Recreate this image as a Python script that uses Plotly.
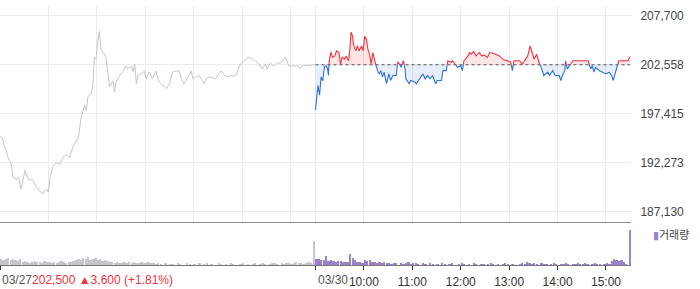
import plotly.graph_objects as go

# ---------------- data ----------------
BASE = 202558  # previous close (dotted reference line)
Y_TICKS = [187130, 192273, 197415, 202558, 207700]
DAY_LABELS = ["03/27", "03/30"]
HOUR_LABELS = ["10:00", "11:00", "12:00", "13:00", "14:00", "15:00"]
SUMMARY = "202,500 ▲3,600 (+1.81%)"

d1_time = ["09:00","09:03","09:06","09:08","09:10","09:14","09:16","09:21","09:23","09:26",
           "09:31","09:35","09:41","09:45","09:53","09:58","10:00","10:02","10:06","10:10",
           "10:14","10:18","10:22","10:26","10:31","10:37","10:41","10:45","10:47","10:49",
           "10:53","10:55","10:57","10:59","11:01","11:03","11:05","11:08","11:11","11:14",
           "11:16","11:20","11:22","11:24","11:28","11:32","11:36","11:38","11:43","11:45",
           "11:47","11:49","11:51","11:55","11:59","12:01","12:05","12:09","12:13","12:17",
           "12:22","12:26","12:30","12:34","12:38","12:42","12:46","12:48","12:52","12:57",
           "12:59","13:03","13:07","13:13","13:15","13:21","13:27","13:34","13:40","13:46",
           "13:52","13:56","13:58","14:02","14:06","14:09","14:13","14:17","14:21","14:25",
           "14:29","14:31","14:35","14:39","14:44","14:48","14:52","14:54","14:58","15:02",
           "15:10","15:12","15:14","15:30"]
d1_price = [195090,194880,193850,193540,192820,192090,190750,190540,190750,189510,
            191470,190540,190440,189710,188990,189510,189200,190750,191990,192300,
            192090,192820,193130,192820,194060,194880,197260,198290,197780,199220,
            199530,200360,203360,203150,204910,206050,204190,203880,203460,201400,
            200260,200880,199740,200770,201400,201810,202430,202120,202430,201810,
            202640,200570,201400,201600,201910,201080,201810,201080,201910,200770,
            200360,200050,200570,201810,201910,201910,200880,200570,201080,201910,
            201080,201290,201400,200570,201080,201290,201080,201910,201290,201400,
            201400,202120,202640,202950,203150,203360,203150,202950,202640,202120,
            202640,202120,202740,202430,202740,202740,203150,203360,202430,202430,
            202430,202120,202430,202558]

d2_time = ["09:00","09:03","09:05","09:07","09:09","09:11","09:13","09:15","09:16","09:17",
           "09:19","09:21","09:24","09:26","09:29","09:31","09:33","09:36","09:38","09:41",
           "09:43","09:44","09:46","09:47","09:50","09:52","09:54","09:57","09:59","10:01",
           "10:03","10:05","10:07","10:09","10:11","10:13","10:15","10:17","10:19","10:21",
           "10:23","10:25","10:28","10:31","10:33","10:36","10:40","10:42","10:44","10:46",
           "10:49","10:51","10:52","10:56","10:58","11:03","11:05","11:09","11:13","11:16",
           "11:19","11:22","11:25","11:29","11:31","11:36","11:38","11:42","11:44","11:48",
           "11:50","11:53","11:56","12:00","12:02","12:04","12:09","12:11","12:13","12:16",
           "12:19","12:23","12:26","12:29","12:33","12:36","12:40","12:44","12:48","12:53",
           "12:58","13:02","13:04","13:06","13:13","13:16","13:19","13:23","13:26","13:28",
           "13:31","13:34","13:37","13:39","13:43","13:48","13:50","13:54","13:57","14:02",
           "14:04","14:06","14:09","14:10","14:12","14:15","14:19","14:23","14:38","14:41",
           "14:43","14:45","14:47","14:52","14:56","15:00","15:04","15:07","15:09","15:11",
           "15:14","15:16","15:23","15:27","15:30"]
d2_price = [197810,200390,199360,201290,200880,202320,202460,202120,201430,202980,
            203880,203360,203490,204010,203840,202640,203360,203150,203490,202980,
            204530,205980,205560,204700,204010,204530,204010,204530,204010,205560,
            205220,204190,203670,202640,203840,203150,202460,201940,201600,201940,
            201290,201780,200570,201600,200910,201430,201430,202870,202640,202290,
            202980,202120,201080,200570,200910,200740,200570,201080,201600,201080,
            201430,201080,201430,200570,200910,200910,201940,201940,202980,202810,
            202980,202640,202290,202460,201940,202980,203490,203840,203670,203950,
            203490,203840,203490,203570,203330,203840,203770,203670,203490,203080,
            202980,202810,201940,202980,202980,202640,202980,203490,204530,204010,
            203150,203670,202640,202460,201430,201780,201430,201940,201430,201430,
            200910,201430,201940,202980,202120,202460,202980,202980,202980,202120,
            202460,201780,202290,201940,201780,201600,201780,201430,200910,201600,
            202460,202980,202980,202980,203430]

# volume, 3-minute bins (09:00-15:27) + closing auction at 15:30 (thousand shares)
d1_vol = [6,5,6,7,5,6,5,4,6,
          3,4,3,2,3,4,3,3,2,4,3,3,2,3,2,3,4,3,2,3,3,
          4,5,6,5,7,6,8,5,6,7,5,6,4,5,4,3,
          3,2,3,2,2,3,2,3,2,3,2,2,3,2,2,3,2,2,1,2,
          1,0,2,0,1,1,0,2,1,0,0,2,1,0,1,0,2,0,1,2,
          0,1,0,0,2,1,0,1,0,2,1,0,0,1,2,0,1,0,1,2,
          0,1,2,1,0,1,2,2,1,0,2,1,2,2,1,2,3,2,2,1,
          2,3,2,1]
d1_close_vol = 25
d2_vol = [6,6,5,5,9,4,5,4,3,4,4,3,3,3,12,7,5,3,3,2,5,4,5,3,3,2,3,2,3,
          2,2,1,2,2,0,2,1,2,3,1,2,2,1,0,2,
          1,0,2,1,0,1,0,2,1,0,1,2,0,0,1,2,1,0,1,0,2,1,0,1,1,
          0,1,2,1,0,1,0,1,2,1,0,1,0,0,1,2,1,3,2,1,
          2,1,0,2,1,1,0,1,2,1,0,1,1,2,1,0,1,1,2,1,1,2,1,0,1,2,1,1,0,1,2,1,
          4,6,5,4,5,3,1,0]
d2_close_vol = 36

# ---------------- helpers ----------------
DAY_OFFSET = [0, 391]  # session-minute offset of each trading day on the axis
BIN = 3


def tmin(t):
    h, m = t.split(":")
    return (int(h) - 9) * 60 + int(m)


def xs(times, day):
    return [tmin(t) + DAY_OFFSET[day] for t in times]


x1 = xs(d1_time, 0)
x2 = xs(d2_time, 1)

# insert crossing points of day-2 line with base
px, py = [], []
for i in range(len(x2)):
    px.append(x2[i]); py.append(d2_price[i])
    if i + 1 < len(x2):
        a, b = d2_price[i] - BASE, d2_price[i + 1] - BASE
        if a * b < 0:
            xc = x2[i] + (x2[i + 1] - x2[i]) * a / (a - b)
            px.append(xc); py.append(BASE)
up = [max(v, BASE) for v in py]
dn = [min(v, BASE) for v in py]
red = [v if v >= BASE else None for v in py]
blue = [v if v <= BASE else None for v in py]
basel = [BASE] * len(px)

GRAY = "#c5c6cb"
RED = "#f2323c"
BLUE = "#2f72d6"
PURPLE = "#9a82cc"

fig = go.Figure()
# price pane
fig.add_trace(go.Scatter(x=x1, y=d1_price, mode="lines", line=dict(color=GRAY, width=1),
                         xaxis="x", yaxis="y", hoverinfo="skip"))
fig.add_trace(go.Scatter(x=px, y=basel, mode="lines", line=dict(width=0), xaxis="x", yaxis="y",
                         hoverinfo="skip"))
fig.add_trace(go.Scatter(x=px, y=up, mode="lines", line=dict(width=0), fill="tonexty",
                         fillcolor="rgba(245,80,90,0.15)", xaxis="x", yaxis="y", hoverinfo="skip"))
fig.add_trace(go.Scatter(x=px, y=basel, mode="lines", line=dict(width=0), xaxis="x", yaxis="y",
                         hoverinfo="skip"))
fig.add_trace(go.Scatter(x=px, y=dn, mode="lines", line=dict(width=0), fill="tonexty",
                         fillcolor="rgba(60,120,210,0.13)", xaxis="x", yaxis="y", hoverinfo="skip"))
fig.add_trace(go.Scatter(x=[DAY_OFFSET[1], DAY_OFFSET[1] + tmin("15:30")], y=[BASE, BASE],
                         mode="lines", line=dict(color="#555555", width=1, dash="dot"),
                         xaxis="x", yaxis="y", hoverinfo="skip"))
fig.add_trace(go.Scatter(x=px, y=red, mode="lines", line=dict(color=RED, width=1.1),
                         connectgaps=False, xaxis="x", yaxis="y", hoverinfo="skip"))
fig.add_trace(go.Scatter(x=px, y=blue, mode="lines", line=dict(color=BLUE, width=1.1),
                         connectgaps=False, xaxis="x", yaxis="y", hoverinfo="skip"))

# volume pane
vb1 = [DAY_OFFSET[0] + i * BIN + BIN / 2 for i in range(len(d1_vol))]
vb2 = [DAY_OFFSET[1] + i * BIN + BIN / 2 for i in range(len(d2_vol))]
fig.add_trace(go.Bar(x=vb1, y=d1_vol, width=2.2, marker=dict(color=GRAY, line=dict(width=0)),
                     xaxis="x2", yaxis="y2", hoverinfo="skip"))
fig.add_trace(go.Bar(x=[DAY_OFFSET[0] + tmin("15:30") - 0.5], y=[d1_close_vol], width=1.0,
                     marker=dict(color="#c8c8cc", line=dict(width=0)), xaxis="x2", yaxis="y2",
                     hoverinfo="skip"))
fig.add_trace(go.Bar(x=vb2, y=d2_vol, width=2.2, marker=dict(color=PURPLE, line=dict(width=0)),
                     xaxis="x2", yaxis="y2", hoverinfo="skip"))
fig.add_trace(go.Bar(x=[DAY_OFFSET[1] + tmin("15:30") - 0.5], y=[d2_close_vol], width=1.0,
                     marker=dict(color=PURPLE, line=dict(width=0)), xaxis="x2", yaxis="y2",
                     hoverinfo="skip"))

# axes geometry
H_PLOT = 269.0
y_lo = Y_TICKS[0] - (225 - 215) * (Y_TICKS[-1] - Y_TICKS[0]) / 199.0
y_hi = Y_TICKS[-1] + (16 - 6) * (Y_TICKS[-1] - Y_TICKS[0]) / 199.0
XR = [0, DAY_OFFSET[1] + tmin("15:30") + 1]

grid_x = [DAY_OFFSET[0] + h * 60 for h in range(7)] + [DAY_OFFSET[1] + h * 60 for h in range(7)]
tick_x = [DAY_OFFSET[0], DAY_OFFSET[1]] + [DAY_OFFSET[1] + (h + 1) * 60 for h in range(6)]
tick_t = ["", ""] + HOUR_LABELS

FONT = "Liberation Sans, Arial, sans-serif"
fig.update_layout(
    width=700, height=289,
    margin=dict(l=0, r=69, t=0, b=20),
    paper_bgcolor="white", plot_bgcolor="white",
    showlegend=False, bargap=0,
    font=dict(family=FONT, size=12, color="#444"),
    xaxis=dict(domain=[0, 1], range=XR, anchor="y", tickvals=grid_x, showticklabels=False,
               ticks="", showgrid=True, gridcolor="#ebebeb", gridwidth=1, zeroline=False,
               showline=True, linecolor="#8c8c8c", linewidth=1),
    yaxis=dict(domain=[(H_PLOT - 225) / H_PLOT, (H_PLOT - 6) / H_PLOT], range=[y_lo, y_hi],
               side="right", anchor="x", tickvals=Y_TICKS, tickformat=",d", showgrid=True,
               gridcolor="#ebebeb", gridwidth=1, zeroline=False, ticks="outside", ticklen=6,
               tickcolor="rgba(0,0,0,0)", tickfont=dict(size=12, color="#444", family=FONT)),
    xaxis2=dict(domain=[0, 1], range=XR, anchor="y2", tickvals=tick_x, ticktext=tick_t,
                ticks="outside", ticklen=4, tickcolor="#333", tickwidth=1, showgrid=False,
                zeroline=False, showline=True, linecolor="#777", linewidth=1,
                ticklabelstandoff=2,
                tickfont=dict(size=12, color="#333", family=FONT)),
    yaxis2=dict(domain=[0, (H_PLOT - 226) / H_PLOT], range=[0, 43], anchor="x2",
                showticklabels=False, showgrid=False, zeroline=False, ticks=""),
)

fig.add_annotation(xref="x2", yref="paper", x=DAY_OFFSET[0], y=-15.5 / H_PLOT, xanchor="left",
                   yanchor="middle", showarrow=False,
                   text=DAY_LABELS[0] + "<span style='color:#f2323c'>" + SUMMARY + "</span>",
                   font=dict(size=12, color="#555", family=FONT))
fig.add_annotation(xref="x2", yref="paper", x=DAY_OFFSET[1], y=-15.5 / H_PLOT, xanchor="left",
                   yanchor="middle", showarrow=False, text=DAY_LABELS[1],
                   font=dict(size=12, color="#555", family=FONT))
fig.add_annotation(xref="paper", yref="paper", x=1.0, y=(H_PLOT - 238) / H_PLOT, xanchor="left",
                   yanchor="middle", xshift=20, showarrow=False,
                   text="<span style='color:#9a82cc'>▮</span>거래량",
                   font=dict(size=11, color="#444", family="Noto Sans CJK KR, " + FONT))

fig.write_html("out.html")
